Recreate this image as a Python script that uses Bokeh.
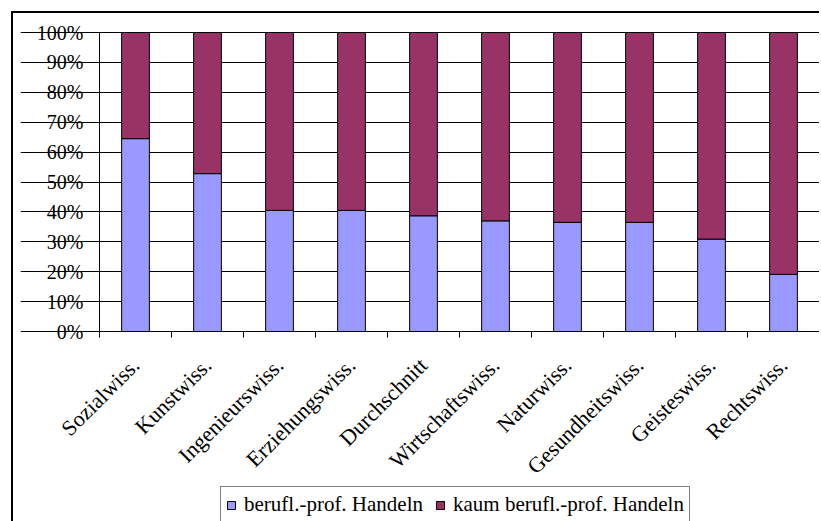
import numpy as np
from bokeh.plotting import figure
from bokeh.models import (FixedTicker, NumeralTickFormatter, Range1d, Legend,
                          LegendItem, LinearAxis)
from bokeh.embed import file_html
from bokeh.resources import INLINE

categories = ["Sozialwiss.", "Kunstwiss.", "Ingenieurswiss.", "Erziehungswiss.",
              "Durchschnitt", "Wirtschaftswiss.", "Naturwiss.", "Gesundheitswiss.",
              "Geisteswiss.", "Rechtswiss."]
berufl = [0.645, 0.528, 0.405, 0.405, 0.387, 0.370, 0.365, 0.365, 0.309, 0.191]
kaum = [0.355, 0.472, 0.595, 0.595, 0.613, 0.630, 0.635, 0.635, 0.691, 0.809]
series_names = ["berufl.-prof. Handeln", "kaum berufl.-prof. Handeln"]
colors = ["#9999FF", "#993366"]
y_ticks = [i / 10 for i in range(11)]

FONT = "Liberation Serif"
N = len(categories)

xpos = [i + 0.5 for i in range(N)]
data = dict(x=xpos, berufl=berufl, kaum=kaum)

# The frame covers the whole chart area; values 0..1 and categories 0..N occupy
# the 720x299 px plot rectangle inside it, axes are fixed at 0.
PLOT_W, LEFT_PX = 720, 79
PLOT_PX, BELOW_PX, TOP_PX = 299, 190, 18
p = figure(frame_width=PLOT_W + LEFT_PX, frame_height=PLOT_PX + BELOW_PX + TOP_PX,
           output_backend="svg", toolbar_location=None,
           x_range=Range1d(-LEFT_PX * N / PLOT_W, N),
           y_range=Range1d(-BELOW_PX / PLOT_PX, 1 + TOP_PX / PLOT_PX),
           min_border_left=20, min_border_right=0, min_border_top=32 - TOP_PX,
           min_border_bottom=0)

rs = p.vbar_stack(["berufl", "kaum"], x="x", width=0.385, source=data,
                  fill_color=colors, line_color="black", line_width=1)

# y axis at category position 0
p.yaxis.fixed_location = 0
p.yaxis.ticker = FixedTicker(ticks=y_ticks)
p.yaxis.bounds = (0, 1)
p.yaxis.formatter = NumeralTickFormatter(format="0%")
p.yaxis.major_tick_out = 7
p.yaxis.major_tick_in = 0
p.yaxis.minor_tick_line_color = None
p.yaxis.major_label_standoff = 9
p.yaxis.major_label_text_font = FONT
p.yaxis.major_label_text_font_size = "20px"
p.yaxis.major_label_text_color = "black"
p.yaxis.axis_line_color = "black"

# right edge of the plot area (grey)
right_axis = LinearAxis(ticker=FixedTicker(ticks=[]), bounds=(0, 1),
                        axis_line_color="#808080", major_tick_line_color=None,
                        minor_tick_line_color=None, major_label_text_font_size="0px",
                        major_label_standoff=0, major_tick_out=0, major_tick_in=0)
p.add_layout(right_axis, "right")

# x axis at value 0
p.xaxis.fixed_location = 0
p.xaxis.bounds = (0, N)
p.xaxis.ticker = FixedTicker(ticks=xpos, minor_ticks=list(range(N + 1)))
p.xaxis.major_label_overrides = {x: c for x, c in zip(xpos, categories)}
p.xaxis.major_tick_line_color = None
p.xaxis.minor_tick_out = 6
p.xaxis.minor_tick_in = 0
p.xaxis.minor_tick_line_color = "black"
p.xaxis.major_label_orientation = np.pi / 4
p.xaxis.major_label_standoff = 24
p.xaxis.major_label_text_font = FONT
p.xaxis.major_label_text_font_size = "22px"
p.xaxis.major_label_text_color = "black"
p.xaxis.axis_line_color = "black"

p.xgrid.grid_line_color = None
p.ygrid.ticker = FixedTicker(ticks=y_ticks)
p.ygrid.bounds = (0, N)
p.ygrid.grid_line_color = "black"
p.ygrid.grid_line_width = 1
p.outline_line_color = None

legend = Legend(items=[LegendItem(label=series_names[0], renderers=[rs[0]]),
                       LegendItem(label=series_names[1], renderers=[rs[1]])],
                orientation="horizontal", location=(200, -2),
                label_text_font="serif", label_text_font_size="21px",
                label_text_color="black", glyph_width=10, glyph_height=10,
                label_standoff=8, spacing=12, padding=5, margin=0,
                border_line_color="black", border_line_width=1,
                background_fill_color="white", background_fill_alpha=1)
p.add_layout(legend, "center")

# outer chart-area border (left and top visible, right/bottom beyond the picture)
p.border_fill_alpha = 0
p.background_fill_alpha = 0
p.styles = {
    "background": "linear-gradient(#000, #000) 11px 11px / 2px 100% no-repeat, "
                  "linear-gradient(#000, #000) 11px 11px / 100% 2px no-repeat, #fff"
}

open("out.html", "w").write(file_html(p, INLINE))
